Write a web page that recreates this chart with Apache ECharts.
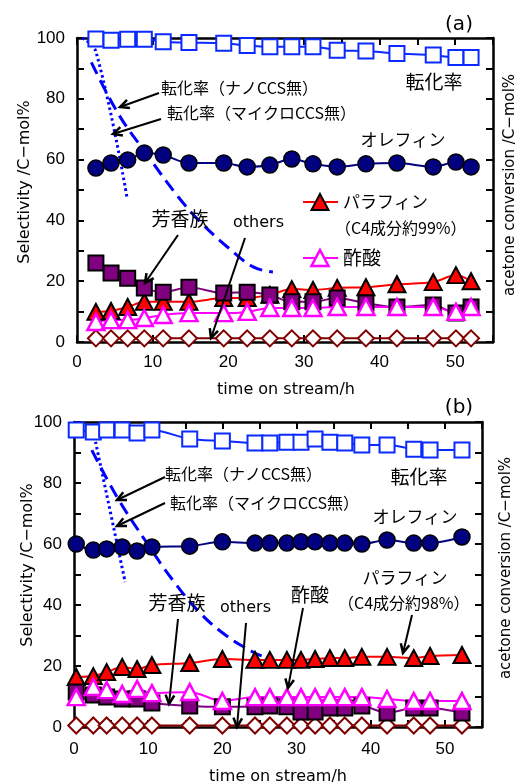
<!DOCTYPE html>
<html>
<head>
<meta charset="utf-8">
<script src="https://cdn.jsdelivr.net/npm/echarts@6/dist/echarts.min.js"></script>
<style>
  html, body { margin: 0; padding: 0; background: #fff; }
  #main { width: 521px; height: 784px; }
</style>
</head>
<body>
<div id="main"></div>
<script>
// ---- (a) ----
var timeA   = [2.5, 4.5, 6.7, 8.9, 11.4, 14.8, 19.4, 22.5, 25.5, 28.4, 31.2, 34.4, 38.2, 42.3, 47.1, 50.1, 52.1]
var convA   = [99.7, 99.3, 99.6, 99.6, 98.8, 98.5, 98.3, 97.5, 97.1, 97.1, 97.1, 96.0, 95.7, 94.9, 94.4, 93.6, 93.6]
var olefinA = [57.2, 58.9, 59.9, 62.2, 61.5, 58.9, 58.9, 57.6, 58.2, 60.2, 58.6, 57.6, 58.6, 58.9, 57.6, 59.2, 57.6]
var paraA   = [9.9, 10.2, 11.5, 13.2, 13.2, 13.2, 14.5, 14.5, 15.5, 17.4, 17.1, 17.8, 18.0, 19.0, 19.7, 22.0, 20.0]
var aromA   = [26.0, 22.7, 21.0, 17.8, 16.4, 18.0, 16.1, 16.4, 15.5, 13.2, 13.2, 14.5, 12.8, 11.5, 12.2, 9.5, 11.5]
var acetA   = [6.6, 7.2, 7.2, 7.9, 8.9, 9.5, 9.5, 9.9, 11.2, 11.2, 11.2, 11.5, 11.5, 11.5, 11.5, 9.9, 11.5]
var othersA = [1.2, 1.2, 1.2, 1.2, 1.2, 1.2, 1.2, 1.2, 1.2, 1.2, 1.2, 1.2, 1.2, 1.2, 1.2, 1.2, 1.2]
// 転化率（ナノCCS無） dashed, 転化率（マイクロCCS無） dotted
var nanoA   = [[1.9, 92], [5.4, 75.3], [9.0, 62.5], [13.4, 47.7], [16.3, 39.5], [20.0, 31.0], [23.3, 24.7], [25.9, 23.0]]
var microA  = [[0.7, 100], [2.5, 95.5], [6.6, 47.7]]

// ---- (b) ----
var timeB   = [0.3, 2.6, 4.4, 6.5, 8.5, 10.5, 15.6, 20.0, 24.4, 26.4, 28.7, 30.6, 32.5, 34.5, 36.5, 38.8, 42.2, 45.8, 48.0, 52.3]
var convB   = [97.4, 96.7, 97.4, 97.4, 96.4, 97.4, 94.4, 93.8, 93.1, 93.1, 93.4, 93.4, 94.4, 93.4, 93.1, 92.5, 92.5, 91.1, 90.8, 90.8]
var olefinB = [60.0, 58.0, 58.4, 59.0, 57.7, 59.0, 59.3, 60.7, 60.3, 60.3, 60.3, 60.7, 60.7, 60.3, 60.3, 60.0, 61.3, 60.3, 60.3, 62.3]
var paraB   = [16.4, 16.7, 18.0, 19.7, 19.0, 20.3, 21.0, 22.3, 22.0, 22.0, 22.0, 22.0, 22.3, 22.6, 22.6, 23.0, 23.0, 22.6, 23.3, 23.6]
var aromB   = [11.5, 10.5, 9.8, 9.2, 9.2, 7.9, 6.9, 6.6, 6.6, 6.9, 6.6, 4.9, 4.9, 6.2, 6.2, 6.9, 4.6, 6.2, 6.2, 4.6]
var acetB   = [9.8, 13.1, 12.1, 10.8, 12.5, 11.1, 11.5, 8.5, 9.8, 9.8, 9.8, 9.8, 9.8, 9.8, 9.8, 9.8, 9.2, 8.5, 8.5, 8.5]
var othersB = [0.5, 0.5, 0.5, 0.5, 0.5, 0.5, 0.5, 0.5, 0.5, 0.5, 0.5, 0.5, 0.5, 0.5, 0.5, 0.5, 0.5, 0.5, 0.5, 0.5]
var nanoB   = [[2.4, 90.8], [5.8, 75.4], [9.5, 61.5], [13.3, 48.2], [17.0, 37.4], [20.5, 30.0], [24.1, 24.6], [25.3, 23.3]]
var microB  = [[2.9, 93.5], [6.9, 47.5]]

var JP = '"Noto Sans CJK JP", sans-serif'
var LAT = '"DejaVu Sans", sans-serif'

function zip(xs, ys) {
    return xs.map(function (x, i) { return [x, ys[i]] })
}

function xAx(gi, pos, labels, margin) {
    return {
        type: 'value', gridIndex: gi, position: pos, min: 0, max: 55, interval: 5,
        axisLine: { onZero: false, lineStyle: { color: '#000', width: 2.5 } },
        axisTick: { inside: true, length: 7, lineStyle: { color: '#000', width: 2 } },
        axisLabel: {
            show: labels, margin: margin, color: '#000', fontSize: 17, fontFamily: 'Liberation Sans',
            formatter: function (v) { return v % 10 === 0 ? v : '' }
        },
        splitLine: { show: false }
    }
}

function yAx(gi, pos, labels) {
    return {
        type: 'value', gridIndex: gi, position: pos, min: 0, max: 100, interval: 10,
        axisLine: { onZero: false, lineStyle: { color: '#000', width: 2.5 } },
        axisTick: { inside: true, length: 7, lineStyle: { color: '#000', width: 2 } },
        axisLabel: {
            show: labels, margin: 12, color: '#000', fontSize: 17, fontFamily: 'Liberation Sans',
            formatter: function (v) { return v % 20 === 0 ? v : '' }
        },
        splitLine: { show: false }
    }
}

function curve(gi, data, dash) {
    return {
        type: 'line', xAxisIndex: gi * 2, yAxisIndex: gi * 2 + 1, data: data,
        symbol: 'none', smooth: 0.4, z: 1,
        lineStyle: { color: '#0000ff', width: 3, type: dash }
    }
}

function marks(gi, xs, ys, sym, size, fill, border, bw, lineColor) {
    return {
        type: 'line', xAxisIndex: gi * 2, yAxisIndex: gi * 2, data: zip(xs, ys),
        symbol: sym, symbolSize: size, smooth: 0.3, z: 2,
        itemStyle: { color: fill, borderColor: border, borderWidth: bw, opacity: 1 },
        lineStyle: { color: lineColor, width: 2 }
    }
}

function panelSeries(gi, t, conv, olefin, para, arom, acet, others, nano, micro) {
    return [
        curve(gi, micro, [2.5, 3]),
        curve(gi, nano, [13, 7]),
        marks(gi, t, others, 'diamond', 16, '#fff', '#800000', 2, '#800000'),
        marks(gi, t, para, 'triangle', [17, 16], '#ff0000', '#000', 2, '#ff0000'),
        marks(gi, t, arom, 'rect', 15, '#800080', '#000', 2, '#800080'),
        marks(gi, t, acet, 'triangle', [17, 16], '#fff', '#ff00ff', 2.5, '#ff00ff'),
        marks(gi, t, olefin, 'circle', 16, '#000080', '#000', 1.5, '#000080'),
        Object.assign(marks(gi, t, conv, 'rect', 15, '#fff', '#0a2aff', 2, '#0a2aff'),
            { yAxisIndex: gi * 2 + 1 })
    ]
}

// annotation layout (pixels)
var texts = [
    ['(a)', 459, 25, 20, LAT, 'center'],
    ['転化率（ナノCCS無）', 161, 88, 16, JP, 'left'],
    ['転化率（マイクロCCS無）', 167, 113, 16, JP, 'left'],
    ['転化率', 434, 82, 19, JP, 'center'],
    ['オレフィン', 403, 140, 17, JP, 'center'],
    ['パラフィン', 343, 202, 17, JP, 'left'],
    ['（C4成分約99%）', 335, 228, 16, JP, 'left'],
    ['酢酸', 343, 258, 19, JP, 'left'],
    ['芳香族', 180, 219, 19, JP, 'center'],
    ['others', 233, 223, 16, LAT, 'left'],
    ['time on stream/h', 286, 390, 16, LAT, 'center'],
    ['(b)', 459, 408, 20, LAT, 'center'],
    ['転化率（ナノCCS無）', 165, 474, 16, JP, 'left'],
    ['転化率（マイクロCCS無）', 170, 503, 16, JP, 'left'],
    ['転化率', 419, 477, 19, JP, 'center'],
    ['オレフィン', 415, 517, 17, JP, 'center'],
    ['パラフィン', 405, 578, 17, JP, 'center'],
    ['（C4成分約98%）', 338, 603, 16, JP, 'left'],
    ['酢酸', 310, 595, 19, JP, 'center'],
    ['芳香族', 177, 603, 19, JP, 'center'],
    ['others', 220, 608, 16, LAT, 'left'],
    ['time on stream/h', 278, 777, 16, LAT, 'center']
]
var vtexts = [
    ['Selectivity /C−mol%', 25, 182, 16],
    ['acetone conversion /C−mol%', 510, 185, 15],
    ['Selectivity /C−mol%', 28, 565, 16],
    ['acetone conversion /C−mol%', 506, 568, 15]
]
var arrows = [
    [159, 93, 120, 107], [161, 119, 113, 134], [178, 235, 145, 283], [245, 238, 211, 338],
    [165, 477, 117, 500], [165, 503, 117, 526], [412, 615, 403, 653], [303, 608, 288, 688],
    [178, 619, 169, 704], [246, 623, 237, 727]
]

function buildGraphic() {
    var g = []
    texts.forEach(function (t) {
        g.push({ type: 'text', x: t[1], y: t[2], z: 10,
            style: { text: t[0], fill: '#000', font: t[3] + 'px ' + t[4], align: t[5], verticalAlign: 'middle' } })
    })
    vtexts.forEach(function (t) {
        g.push({ type: 'text', x: t[1], y: t[2], rotation: Math.PI / 2, z: 10,
            style: { text: t[0], fill: '#000', font: t[3] + 'px ' + LAT, align: 'center', verticalAlign: 'middle' } })
    })
    arrows.forEach(function (a) {
        var ang = Math.atan2(a[3] - a[1], a[2] - a[0])
        var L = 10, s = 0.45
        var p1 = [a[2] - L * Math.cos(ang - s), a[3] - L * Math.sin(ang - s)]
        var p2 = [a[2] - L * Math.cos(ang + s), a[3] - L * Math.sin(ang + s)]
        g.push({ type: 'line', z: 10, shape: { x1: a[0], y1: a[1], x2: a[2], y2: a[3] },
            style: { stroke: '#000', lineWidth: 2 } })
        g.push({ type: 'polyline', z: 10, shape: { points: [p1, [a[2], a[3]], p2] },
            style: { stroke: '#000', lineWidth: 2.5, fill: null } })
    })
    // legend keys in panel (a)
    g.push({ type: 'line', z: 10, shape: { x1: 303, y1: 202, x2: 338, y2: 202 }, style: { stroke: '#ff0000', lineWidth: 2 } })
    g.push({ type: 'polygon', z: 11, shape: { points: [[320, 194], [328.5, 210], [311.5, 210]] },
        style: { fill: '#ff0000', stroke: '#000', lineWidth: 2 } })
    g.push({ type: 'line', z: 10, shape: { x1: 303, y1: 258, x2: 338, y2: 258 }, style: { stroke: '#ff00ff', lineWidth: 2 } })
    g.push({ type: 'polygon', z: 11, shape: { points: [[320, 250], [328.5, 266], [311.5, 266]] },
        style: { fill: '#fff', stroke: '#ff00ff', lineWidth: 2.5 } })
    return g
}

var myChart
var option = {
    animation: false,
    backgroundColor: '#fff',
    grid: [
        { left: 77, top: 38, width: 416, height: 304 },
        { left: 74, top: 422, width: 408, height: 305 }
    ],
    xAxis: [
        xAx(0, 'bottom', true, 12), xAx(0, 'top', false, 0),
        xAx(1, 'bottom', true, 14), xAx(1, 'top', false, 0)
    ],
    yAxis: [
        yAx(0, 'left', true), yAx(0, 'right', false),
        yAx(1, 'left', true), yAx(1, 'right', false)
    ],
    series: [],
    graphic: []
}

function initChart() {
    myChart = echarts.init(document.getElementById('main'), null, { renderer: 'canvas' })
    option.series = panelSeries(0, timeA, convA, olefinA, paraA, aromA, acetA, othersA, nanoA, microA)
        .concat(panelSeries(1, timeB, convB, olefinB, paraB, aromB, acetB, othersB, nanoB, microB))
    option.graphic = buildGraphic()
    myChart.setOption(option)
}

initChart()
</script>
</body>
</html>
